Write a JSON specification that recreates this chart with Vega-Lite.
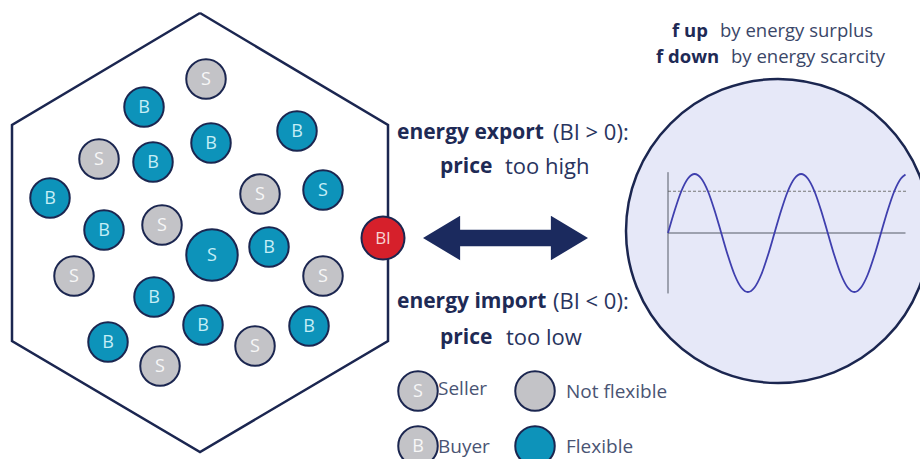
{
  "$schema": "https://vega.github.io/schema/vega-lite/v6.json",
  "autosize": {"type": "none"},
  "width": 920,
  "height": 459,
  "padding": 0,
  "background": "white",
  "config": {"view": {"stroke": null}, "text": {"font": "Open Sans"}},
  "datasets": {
    "hexagon": [
      {"i": 0, "x": 200, "y": 13},
      {"i": 1, "x": 388, "y": 125},
      {"i": 2, "x": 388, "y": 341},
      {"i": 3, "x": 200, "y": 452},
      {"i": 4, "x": 12, "y": 341},
      {"i": 5, "x": 12, "y": 125},
      {"i": 6, "x": 200, "y": 13}
    ],
    "agents": [
      {"role": "S", "flex": "no", "capacity": "normal", "x": 206, "y": 79},
      {"role": "B", "flex": "yes", "capacity": "normal", "x": 144, "y": 107},
      {"role": "B", "flex": "yes", "capacity": "normal", "x": 211, "y": 143},
      {"role": "B", "flex": "yes", "capacity": "normal", "x": 297, "y": 131},
      {"role": "S", "flex": "no", "capacity": "normal", "x": 99, "y": 159},
      {"role": "B", "flex": "yes", "capacity": "normal", "x": 153, "y": 162},
      {"role": "B", "flex": "yes", "capacity": "normal", "x": 50, "y": 198},
      {"role": "S", "flex": "no", "capacity": "normal", "x": 260, "y": 194},
      {"role": "S", "flex": "yes", "capacity": "normal", "x": 323, "y": 190},
      {"role": "B", "flex": "yes", "capacity": "normal", "x": 104, "y": 230},
      {"role": "S", "flex": "no", "capacity": "normal", "x": 162, "y": 225},
      {"role": "S", "flex": "yes", "capacity": "large", "x": 212, "y": 255},
      {"role": "B", "flex": "yes", "capacity": "normal", "x": 269, "y": 247},
      {"role": "S", "flex": "no", "capacity": "normal", "x": 74, "y": 276},
      {"role": "S", "flex": "no", "capacity": "normal", "x": 323, "y": 276},
      {"role": "B", "flex": "yes", "capacity": "normal", "x": 154, "y": 297},
      {"role": "B", "flex": "yes", "capacity": "normal", "x": 203, "y": 325},
      {"role": "B", "flex": "yes", "capacity": "normal", "x": 309, "y": 326},
      {"role": "B", "flex": "yes", "capacity": "normal", "x": 108, "y": 342},
      {"role": "S", "flex": "no", "capacity": "normal", "x": 160, "y": 366},
      {"role": "S", "flex": "no", "capacity": "normal", "x": 255, "y": 346}
    ],
    "legendCircles": [
      {"role": "S", "flex": "no", "x": 418, "y": 391},
      {"role": "", "flex": "no", "x": 535, "y": 391},
      {"role": "B", "flex": "no", "x": 418, "y": 446},
      {"role": "", "flex": "yes", "x": 535, "y": 446}
    ],
    "legendLabels": [
      {"text": "Seller", "x": 438, "y": 389},
      {"text": "Not flexible", "x": 566, "y": 392},
      {"text": "Buyer", "x": 438, "y": 447},
      {"text": "Flexible", "x": 566, "y": 447}
    ],
    "bi": [{"label": "BI", "x": 383, "y": 238}],
    "bigCircle": [{"x": 778, "y": 231}],
    "arrow": [{"x": 505.5, "y": 238}],
    "headBold": [
      {"text": "f up", "x": 672, "y": 31},
      {"text": "f down", "x": 656, "y": 57}
    ],
    "headNormal": [
      {"text": "by energy surplus", "x": 720, "y": 31},
      {"text": "by energy scarcity", "x": 731, "y": 57}
    ],
    "midBold": [
      {"text": "energy export", "x": 397, "y": 133},
      {"text": "price", "x": 440, "y": 167},
      {"text": "energy import", "x": 397, "y": 302},
      {"text": "price", "x": 440, "y": 338}
    ],
    "midNormal": [
      {"text": "(BI > 0):", "x": 553, "y": 133},
      {"text": "too high", "x": 505, "y": 167},
      {"text": "(BI < 0):", "x": 553, "y": 302},
      {"text": "too low", "x": 506, "y": 338}
    ],
    "wave": [
      {"t": 0, "v": 0}, {"t": 1.25, "v": 124}, {"t": 2.5, "v": 230}, {"t": 3.75, "v": 300},
      {"t": 5, "v": 325}, {"t": 6.25, "v": 300}, {"t": 7.5, "v": 230}, {"t": 8.75, "v": 124},
      {"t": 10, "v": 0}, {"t": 11.25, "v": -124}, {"t": 12.5, "v": -230}, {"t": 13.75, "v": -300},
      {"t": 15, "v": -325}, {"t": 16.25, "v": -300}, {"t": 17.5, "v": -230}, {"t": 18.75, "v": -124},
      {"t": 20, "v": 0}, {"t": 21.25, "v": 124}, {"t": 22.5, "v": 230}, {"t": 23.75, "v": 300},
      {"t": 25, "v": 325}, {"t": 26.25, "v": 300}, {"t": 27.5, "v": 230}, {"t": 28.75, "v": 124},
      {"t": 30, "v": 0}, {"t": 31.25, "v": -124}, {"t": 32.5, "v": -230}, {"t": 33.75, "v": -300},
      {"t": 35, "v": -325}, {"t": 36.25, "v": -300}, {"t": 37.5, "v": -230}, {"t": 38.75, "v": -124},
      {"t": 40, "v": 0}, {"t": 41.25, "v": 124}, {"t": 42.5, "v": 230}, {"t": 43.75, "v": 300},
      {"t": 44.6, "v": 322}
    ],
    "xTicks": [
      {"t": 5, "label": "5"}, {"t": 10, "label": "10"}, {"t": 15, "label": "15"}, {"t": 20, "label": "20"},
      {"t": 25, "label": "25"}, {"t": 30, "label": "30"}, {"t": 35, "label": "35"}, {"t": 40, "label": "40"}
    ],
    "yTicks": [
      {"v": 325, "label": "325"}, {"v": 230, "label": "230"}, {"v": -230, "label": "-230"}, {"v": -325, "label": "-325"}
    ]
  },
  "layer": [
    {
      "encoding": {
        "x": {"field": "x", "type": "quantitative", "scale": {"domain": [0, 920], "nice": false, "zero": false}, "axis": null},
        "y": {"field": "y", "type": "quantitative", "scale": {"domain": [0, 459], "nice": false, "zero": false, "reverse": true}, "axis": null}
      },
      "layer": [
        {
          "data": {"name": "hexagon"},
          "mark": {"type": "line", "color": "#1b2650", "strokeWidth": 2.5, "strokeJoin": "miter"},
          "encoding": {"order": {"field": "i", "type": "quantitative"}}
        },
        {
          "data": {"name": "agents"},
          "mark": {"type": "point", "shape": "circle", "filled": true, "opacity": 1, "stroke": "#1b2650", "strokeWidth": 2},
          "encoding": {
            "fill": {"field": "flex", "type": "nominal", "scale": {"domain": ["yes", "no"], "range": ["#0d93ba", "#c3c3c7"]}, "legend": null},
            "size": {"field": "capacity", "type": "nominal", "scale": {"domain": ["normal", "large"], "range": [1560, 2650]}, "legend": null}
          }
        },
        {
          "data": {"name": "agents"},
          "mark": {"type": "text", "fontSize": 18, "baseline": "middle", "dy": 1},
          "encoding": {
            "text": {"field": "role", "type": "nominal"},
            "color": {"field": "flex", "type": "nominal", "scale": {"domain": ["yes", "no"], "range": ["#c6eef6", "#f7f7f7"]}, "legend": null}
          }
        },
        {
          "data": {"name": "bigCircle"},
          "mark": {"type": "point", "shape": "circle", "filled": true, "opacity": 1, "fill": "#e6e8f8", "stroke": "#1b2650", "strokeWidth": 2.5, "size": 92416},
          "encoding": {}
        },
        {
          "data": {"name": "bi"},
          "mark": {"type": "point", "shape": "circle", "filled": true, "opacity": 1, "fill": "#d6202b", "stroke": "#1b2650", "strokeWidth": 2, "size": 1850},
          "encoding": {}
        },
        {
          "data": {"name": "bi"},
          "mark": {"type": "text", "fontSize": 17, "baseline": "middle", "color": "#f6d3d3", "dy": 1},
          "encoding": {"text": {"field": "label", "type": "nominal"}}
        },
        {
          "data": {"name": "arrow"},
          "mark": {
            "type": "point", "filled": true, "opacity": 1, "fill": "#1b2a5e", "size": 27225,
            "shape": "M-1,0 L-0.55,-0.27 L-0.55,-0.1 L0.55,-0.1 L0.55,-0.27 L1,0 L0.55,0.27 L0.55,0.1 L-0.55,0.1 L-0.55,0.27 Z"
          },
          "encoding": {}
        },
        {
          "data": {"name": "headBold"},
          "mark": {"type": "text", "align": "left", "baseline": "middle", "fontSize": 18.5, "fontWeight": "bold", "color": "#1e2a55"},
          "encoding": {"text": {"field": "text", "type": "nominal"}}
        },
        {
          "data": {"name": "headNormal"},
          "mark": {"type": "text", "align": "left", "baseline": "middle", "fontSize": 18.5, "color": "#3a4668"},
          "encoding": {"text": {"field": "text", "type": "nominal"}}
        },
        {
          "data": {"name": "midBold"},
          "mark": {"type": "text", "align": "left", "baseline": "middle", "fontSize": 21, "fontWeight": "bold", "color": "#1e2a55"},
          "encoding": {"text": {"field": "text", "type": "nominal"}}
        },
        {
          "data": {"name": "midNormal"},
          "mark": {"type": "text", "align": "left", "baseline": "middle", "fontSize": 22, "color": "#28345e"},
          "encoding": {"text": {"field": "text", "type": "nominal"}}
        },
        {
          "data": {"name": "legendCircles"},
          "mark": {"type": "point", "shape": "circle", "filled": true, "opacity": 1, "stroke": "#1b2650", "strokeWidth": 2, "size": 1560},
          "encoding": {
            "fill": {"field": "flex", "type": "nominal", "scale": {"domain": ["yes", "no"], "range": ["#0d93ba", "#c3c3c7"]}, "legend": null}
          }
        },
        {
          "data": {"name": "legendCircles"},
          "mark": {"type": "text", "fontSize": 18, "baseline": "middle", "dy": 1, "color": "#f7f7f7"},
          "encoding": {"text": {"field": "role", "type": "nominal"}}
        },
        {
          "data": {"name": "legendLabels"},
          "mark": {"type": "text", "align": "left", "baseline": "middle", "fontSize": 19, "color": "#4a5473"},
          "encoding": {"text": {"field": "text", "type": "nominal"}}
        }
      ]
    },
    {
      "encoding": {
        "x": {"field": "t", "type": "quantitative", "scale": {"domain": [0, 40], "range": [668, 881], "nice": false, "zero": false}, "axis": null},
        "y": {"field": "v", "type": "quantitative", "scale": {"domain": [-325, 325], "range": [292, 174], "nice": false, "zero": false}, "axis": null}
      },
      "layer": [
        {
          "data": {"values": [{"t": 0, "v": 230, "t2": 44.8}]},
          "mark": {"type": "rule", "color": "#777777", "strokeWidth": 1.2, "strokeDash": [3, 2]},
          "encoding": {"x2": {"field": "t2"}}
        },
        {
          "data": {"values": [{"t": 0, "v": 0, "t2": 44.6}]},
          "mark": {"type": "rule", "color": "#555a66", "strokeWidth": 1},
          "encoding": {"x2": {"field": "t2"}}
        },
        {
          "data": {"values": [{"t": 0, "v": -333, "v2": 335}]},
          "mark": {"type": "rule", "color": "#555a66", "strokeWidth": 1},
          "encoding": {"y2": {"field": "v2"}}
        },
        {
          "data": {"name": "xTicks"},
          "mark": {"type": "tick", "orient": "vertical", "color": "#555a66", "size": 5, "thickness": 1},
          "encoding": {"y": {"datum": 0, "type": "quantitative"}}
        },
        {
          "data": {"name": "xTicks"},
          "mark": {"type": "text", "fontSize": 5, "baseline": "middle", "color": "#555555", "font": "DejaVu Sans"},
          "encoding": {"y": {"datum": -40, "type": "quantitative"}, "text": {"field": "label", "type": "nominal"}}
        },
        {
          "data": {"values": [{"t": 42.8, "label": "t (ms)"}]},
          "mark": {"type": "text", "fontSize": 5, "baseline": "middle", "color": "#555555", "font": "DejaVu Sans"},
          "encoding": {"y": {"datum": -40, "type": "quantitative"}, "text": {"field": "label", "type": "nominal"}}
        },
        {
          "data": {"name": "yTicks"},
          "mark": {"type": "tick", "orient": "horizontal", "color": "#555a66", "size": 5, "thickness": 1},
          "encoding": {"x": {"datum": 0, "type": "quantitative"}}
        },
        {
          "data": {"values": [
            {"v": 325, "label": "325"}, {"v": 230, "label": "230"}, {"v": 190, "label": "Veff"},
            {"v": 0, "label": "0"}, {"v": -230, "label": "-230"}, {"v": -325, "label": "-325"}
          ]},
          "mark": {"type": "text", "fontSize": 5, "align": "right", "baseline": "middle", "color": "#555555", "font": "DejaVu Sans"},
          "encoding": {"x": {"datum": -0.6, "type": "quantitative"}, "text": {"field": "label", "type": "nominal"}}
        },
        {
          "data": {"name": "wave"},
          "mark": {"type": "line", "color": "#3f3fae", "strokeWidth": 1.8, "interpolate": "monotone"},
          "encoding": {}
        }
      ]
    }
  ],
  "resolve": {"scale": {"x": "independent", "y": "independent"}}
}
